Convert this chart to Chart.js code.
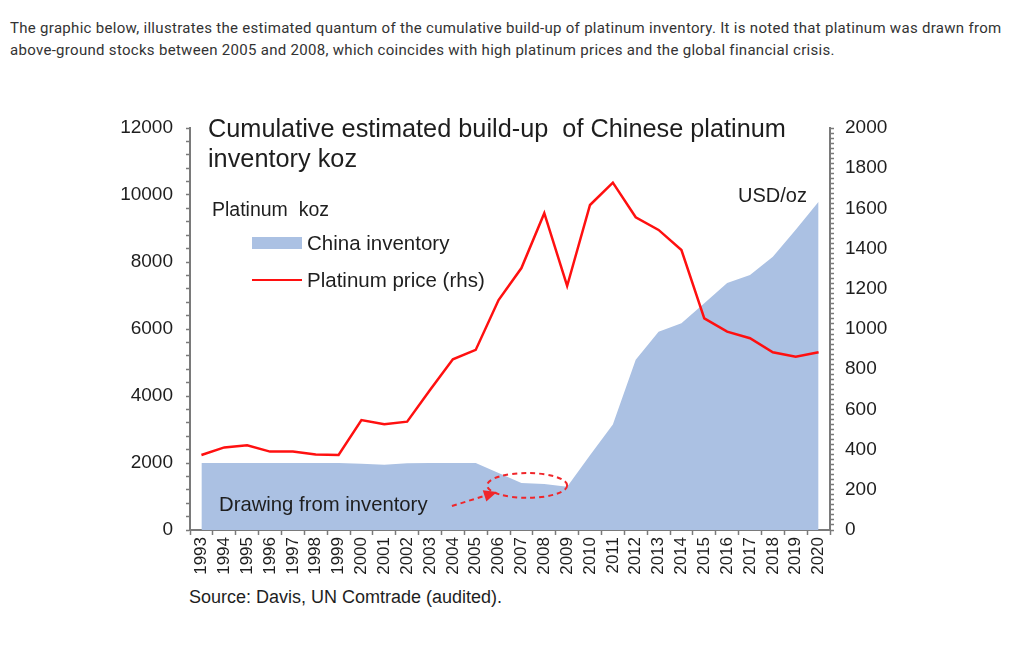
<!DOCTYPE html>
<html lang="en">
<head>
  <meta charset="UTF-8" />
  <title>Chinese platinum inventory</title>
  <script src="https://cdn.jsdelivr.net/npm/chart.js"></script>
  <style>
    body {
      margin: 0;
      background: #fff;
      width: 1022px;
      height: 664px;
      position: relative;
      overflow: hidden;
    }
    #intro {
      position: absolute;
      left: 10px;
      top: 17px;
      width: 1000px;
      font-family: Roboto, sans-serif;
      font-size: 15px;
      letter-spacing: 0.3px;
      line-height: 22px;
      color: #333;
    }
    #wrap {
      position: absolute;
      left: 100px;
      top: 110px;
      width: 820px;
      height: 470px;
    }
    .txt {
      position: absolute;
      font-family: "Liberation Sans", Arial, sans-serif;
      color: #1e1e1e;
      white-space: nowrap;
    }
    #title { left: 208px; top: 113px; font-size: 25.3px; line-height: 30px; }
    #unitL { left: 212px; top: 198px; font-size: 19.5px; }
    #unitR { left: 738px; top: 184px; font-size: 20px; }
    #note  { left: 219px; top: 493px; font-size: 20.3px; }
    #source { left: 189px; top: 587px; font-size: 18px; }
    #legend { left: 252px; top: 224px; font-size: 20.5px; }
    .row { display: flex; align-items: center; height: 37px; }
    .sw { width: 50px; margin-right: 5px; }
  </style>
</head>
<body>
  <div id="intro">The graphic below, illustrates the estimated quantum of the cumulative build-up of platinum inventory. It is noted that platinum was drawn from above-ground stocks between 2005 and 2008, which coincides with high platinum prices and the global financial crisis.</div>

  <div id="wrap"><canvas id="chart"></canvas></div>

  <div class="txt" id="title">Cumulative estimated build-up&nbsp; of Chinese platinum<br>inventory koz</div>
  <div class="txt" id="unitL">Platinum&nbsp; koz</div>
  <div class="txt" id="unitR">USD/oz</div>
  <div class="txt" id="legend"></div>
  <div class="txt" id="note">Drawing from inventory</div>
  <div class="txt" id="source">Source: Davis, UN Comtrade (audited).</div>

  <script>
    const years = ['1993','1994','1995','1996','1997','1998','1999','2000','2001','2002',
                   '2003','2004','2005','2006','2007','2008','2009','2010','2011','2012',
                   '2013','2014','2015','2016','2017','2018','2019','2020'];

    // cumulative China inventory, koz (left axis)
    const inventory = [2000, 2000, 2000, 2000, 2000, 2000, 2000, 1980, 1950, 1990,
                       2000, 2000, 2000, 1700, 1400, 1370, 1290, 2230, 3150, 5080,
                       5920, 6170, 6770, 7370, 7610, 8160, 8960, 9800];

    // platinum price, USD/oz (right axis)
    const price = [373, 411, 421, 390, 390, 376, 373, 547, 526, 539,
                   697, 849, 896, 1144, 1303, 1576, 1214, 1617, 1728, 1556,
                   1493, 1393, 1053, 987, 954, 884, 862, 884];

    const leftTicks = [0, 2000, 4000, 6000, 8000, 10000, 12000];
    const rightTicks = [0, 200, 400, 600, 800, 1000, 1200, 1400, 1600, 1800, 2000];

    const axisGrey = '#7a7a7a';
    const tickFont = { family: '"Liberation Sans", Arial, sans-serif', size: 19 };

    // dashed ellipse and arrow marking the draw-down, placed in data units
    const ring = { x: 14.25, y: 1330, rx: 1.75, ry: 370 };
    const arrow = { x0: 10.96, y0: 716, x1: 12.93, y1: 1134 };

    const notePlugin = {
      id: 'notes',
      afterDatasetsDraw(chart) {
        const { ctx, scales: { x, y } } = chart;
        const cx = x.getPixelForValue(ring.x);
        const cy = y.getPixelForValue(ring.y);
        const rx = x.getPixelForValue(ring.x + ring.rx) - cx;
        const ry = cy - y.getPixelForValue(ring.y + ring.ry);
        ctx.save();
        ctx.strokeStyle = '#f0262a';
        ctx.fillStyle = '#f0262a';
        ctx.lineWidth = 2;
        ctx.setLineDash([5, 4]);
        ctx.beginPath();
        ctx.ellipse(cx, cy, rx, ry, 0, 0, Math.PI * 2);
        ctx.stroke();

        const ax = x.getPixelForValue(arrow.x0), ay = y.getPixelForValue(arrow.y0);
        const bx = x.getPixelForValue(arrow.x1), by = y.getPixelForValue(arrow.y1);
        const ang = Math.atan2(by - ay, bx - ax);
        const len = 13, half = 6;
        const hx = bx - len * Math.cos(ang), hy = by - len * Math.sin(ang);
        ctx.beginPath();
        ctx.moveTo(ax, ay);
        ctx.lineTo(hx, hy);
        ctx.stroke();
        ctx.setLineDash([]);
        ctx.beginPath();
        ctx.moveTo(bx, by);
        ctx.lineTo(hx - half * Math.sin(ang), hy + half * Math.cos(ang));
        ctx.lineTo(hx + half * Math.sin(ang), hy - half * Math.cos(ang));
        ctx.closePath();
        ctx.fill();
        ctx.restore();
      }
    };

    // fixed axis sizes so the plot area lands where the original has it
    const fitY = s => { s.width = 90; s.paddingTop = 0; s.paddingBottom = 0; };

    const chart = new Chart(document.getElementById('chart'), {
      type: 'line',
      data: {
        labels: years,
        datasets: [{
          label: 'China inventory',
          data: inventory,
          yAxisID: 'y',
          fill: 'origin',
          backgroundColor: '#abc1e3',
          borderWidth: 0,
          pointRadius: 0,
          tension: 0,
          order: 2
        }, {
          label: 'Platinum price (rhs)',
          data: price,
          yAxisID: 'y1',
          fill: false,
          borderColor: '#ff1010',
          borderWidth: 2.5,
          pointRadius: 0,
          tension: 0,
          order: 1
        }]
      },
      options: {
        responsive: true,
        maintainAspectRatio: false,
        animation: false,
        events: [],
        layout: { padding: { top: 18, left: 0, right: 0, bottom: 0 } },
        plugins: { legend: { display: false }, tooltip: { enabled: false } },
        scales: {
          x: {
            offset: true,
            grid: { offset: true, drawOnChartArea: false, tickLength: 5, tickColor: axisGrey, tickWidth: 1.5 },
            border: { color: axisGrey, width: 2 },
            ticks: {
              autoSkip: false, minRotation: 90, maxRotation: 90, padding: 2,
              color: '#1e1e1e', font: { family: tickFont.family, size: 17 }
            },
            afterFit(s) { s.height = 50; s.paddingLeft = 0; s.paddingRight = 0; }
          },
          y: {
            position: 'left',
            min: 0, max: 12000,
            grid: { drawOnChartArea: false, tickLength: 4, tickColor: axisGrey, tickWidth: 1.5 },
            border: { color: axisGrey, width: 2 },
            ticks: {
              stepSize: 400, autoSkip: false, padding: 13, color: '#1e1e1e', font: tickFont,
              callback: v => leftTicks.includes(v) ? String(v) : ''
            },
            afterFit: fitY
          },
          y1: {
            position: 'right',
            min: 0, max: 2000,
            grid: { drawOnChartArea: false, tickLength: 4, tickColor: axisGrey, tickWidth: 1.5 },
            border: { color: axisGrey, width: 2 },
            ticks: {
              stepSize: 25, autoSkip: false, padding: 11, color: '#1e1e1e', font: tickFont,
              callback: v => rightTicks.includes(v) ? String(v) : ''
            },
            afterFit: fitY
          }
        }
      },
      plugins: [notePlugin]
    });

    // legend inside the plot, built from the datasets
    const legend = document.getElementById('legend');
    chart.data.datasets.forEach(ds => {
      const row = document.createElement('div');
      row.className = 'row';
      const sw = document.createElement('span');
      sw.className = 'sw';
      if (ds.fill) {
        sw.style.height = '12px';
        sw.style.background = ds.backgroundColor;
      } else {
        sw.style.height = '0';
        sw.style.borderTop = ds.borderWidth + 'px solid ' + ds.borderColor;
      }
      row.appendChild(sw);
      row.appendChild(document.createTextNode(ds.label));
      legend.appendChild(row);
    });
  </script>
</body>
</html>
